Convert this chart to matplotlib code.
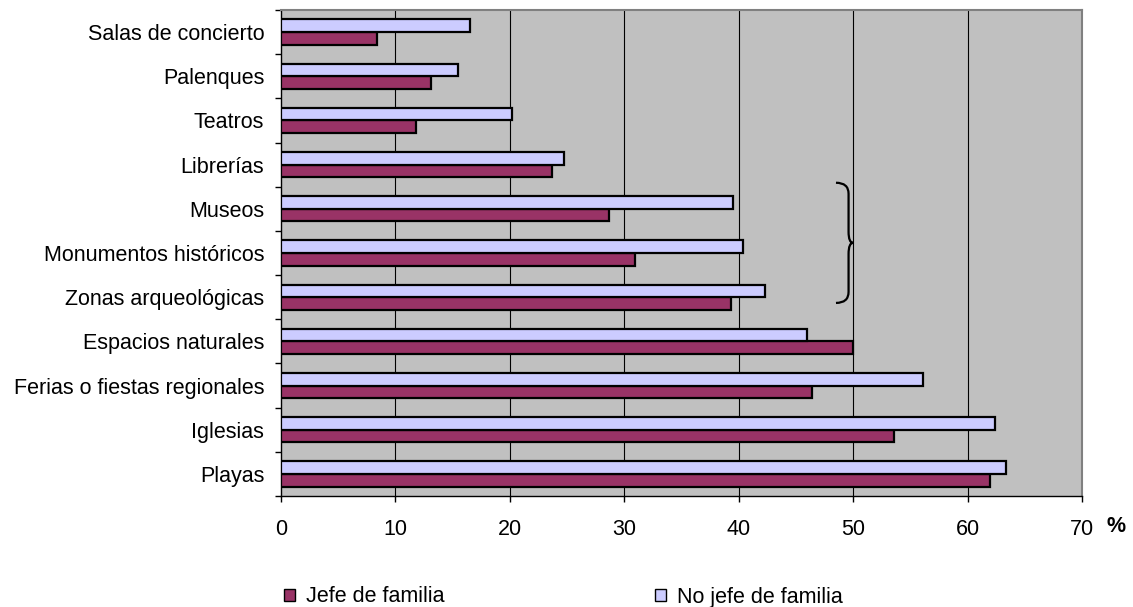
import matplotlib
matplotlib.use("Agg")
import matplotlib.pyplot as plt
import numpy as np
from matplotlib.path import Path
from matplotlib.patches import PathPatch, Patch

plt.rcParams['font.family'] = ['Liberation Sans', 'DejaVu Sans']

categories = ["Playas", "Iglesias", "Ferias o fiestas regionales", "Espacios naturales",
              "Zonas arqueológicas", "Monumentos históricos", "Museos", "Librerías",
              "Teatros", "Palenques", "Salas de concierto"]
jefe = [62.0, 53.6, 46.4, 50.0, 39.3, 30.9, 28.7, 23.7, 11.8, 13.1, 8.4]
no_jefe = [63.4, 62.4, 56.1, 46.0, 42.3, 40.4, 39.5, 24.7, 20.2, 15.5, 16.5]
xticks = [0, 10, 20, 30, 40, 50, 60, 70]
legend_labels = ["Jefe de familia", "No jefe de familia"]

c_jefe = "#993366"
c_no = "#CCCCFF"
FS = 15.5

fig = plt.figure(figsize=(11.33, 6.07), dpi=100)
ax = fig.add_axes([281/1133, 1-496/607, (1082-281)/1133, (496-10)/607])
ax.set_facecolor("#C0C0C0")

y = np.arange(len(categories))
h = 0.285
ax.barh(y - h/2, jefe, height=h, color=c_jefe, edgecolor="black", linewidth=1.6, zorder=3)
ax.barh(y + h/2, no_jefe, height=h, color=c_no, edgecolor="black", linewidth=1.6, zorder=3)

ax.set_xlim(0, 70)
ax.set_ylim(-0.5, len(categories) - 0.5)
ax.set_xticks(xticks)
ax.set_xticklabels([str(v) for v in xticks], fontsize=FS)
ax.set_yticks(y)
ax.set_yticklabels(categories, fontsize=FS)
ax.set_yticks(np.arange(len(categories) + 1) - 0.5, minor=True)
ax.tick_params(axis='y', which='major', length=0, pad=12)
ax.tick_params(axis='y', which='minor', length=4.5, width=1, color="black", direction='out')
ax.tick_params(axis='x', which='major', length=4.5, width=1, color="black", direction='out', pad=12)

for v in xticks[1:-1]:
    ax.axvline(v, color="black", linewidth=0.8, zorder=1)

for s in ["left", "bottom"]:
    ax.spines[s].set_color("black")
    ax.spines[s].set_linewidth(1.0)
for s in ["top", "right"]:
    ax.spines[s].set_color("#808080")
    ax.spines[s].set_linewidth(1.5)

# brace
x0, x1, x2 = 48.5, 49.6, 50.0
ytop, ybot = 6.59, 3.87
ymid = (ytop + ybot) / 2
d = 0.25
verts = [(x0, ytop), (x1, ytop), (x1, ytop - d),
         (x1, ymid + d),
         (x1, ymid), (x2, ymid),
         (x1, ymid), (x1, ymid - d),
         (x1, ybot + d),
         (x1, ybot), (x0, ybot)]
codes = [Path.MOVETO, Path.CURVE3, Path.CURVE3,
         Path.LINETO,
         Path.CURVE3, Path.CURVE3,
         Path.CURVE3, Path.CURVE3,
         Path.LINETO,
         Path.CURVE3, Path.CURVE3]
ax.add_patch(PathPatch(Path(verts, codes), facecolor="none", edgecolor="black",
                       linewidth=1.6, zorder=4, clip_on=False))

fig.text(1116/1133, 1-527/607, "%", fontsize=FS, fontweight="bold", ha="center", va="center")

handles = [Patch(facecolor=c_jefe, edgecolor="black", linewidth=1.0),
           Patch(facecolor=c_no, edgecolor="black", linewidth=1.0)]
fig.legend(handles, legend_labels, loc="center left", bbox_to_anchor=(284/1133, 1-597/607),
           ncol=2, frameon=False, fontsize=FS, handlelength=0.5, handleheight=0.5,
           handletextpad=0.5, columnspacing=9.8, borderpad=0, borderaxespad=0)

fig.savefig("out.png", dpi=100, facecolor="white")
